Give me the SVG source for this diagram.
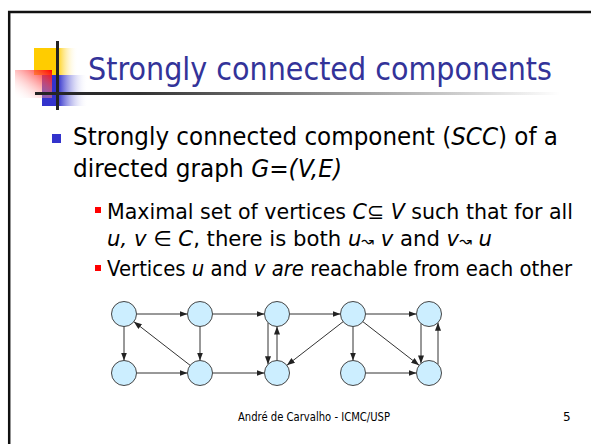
<svg xmlns="http://www.w3.org/2000/svg" width="591" height="444" viewBox="0 0 591 444">
  <style>
    .title { font-family: "DejaVu Sans", sans-serif; font-size: 32px; fill: #333399; }
    .b1 { font-family: "DejaVu Sans", sans-serif; font-size: 25px; fill: #000; }
    .b2 { font-family: "DejaVu Sans", sans-serif; font-size: 21px; fill: #000; }
    .foot { font-family: "DejaVu Sans", sans-serif; font-size: 12px; fill: #000; }
    .i { font-style: italic; }
    .node circle { fill: #cceeff; stroke: #444; stroke-width: 1; }
    #edges line { stroke: #333; stroke-width: 1; marker-end: url(#arr); }
  </style>
  <defs>
    <marker id="arr" viewBox="0 0 8 6" refX="8" refY="3" markerWidth="8" markerHeight="6" markerUnits="userSpaceOnUse" orient="auto">
      <path d="M0,0 L8,3 L0,6 z" fill="#222"/>
    </marker>
    <linearGradient id="gYellow" x1="0" y1="0" x2="1" y2="0">
      <stop offset="0" stop-color="#ffcc00"/>
      <stop offset="0.52" stop-color="#ffcc00"/>
      <stop offset="1" stop-color="#ffffff" stop-opacity="0"/>
    </linearGradient>
    <linearGradient id="gBlue" x1="0" y1="0" x2="1" y2="0">
      <stop offset="0" stop-color="#3333cc"/>
      <stop offset="0.35" stop-color="#3333cc"/>
      <stop offset="1" stop-color="#ffffff" stop-opacity="0"/>
    </linearGradient>
    <linearGradient id="gRed" x1="1" y1="0" x2="0" y2="1">
      <stop offset="0" stop-color="#ff0000"/>
      <stop offset="1" stop-color="#ffffff" stop-opacity="0"/>
    </linearGradient>
    <linearGradient id="gRule" gradientUnits="userSpaceOnUse" x1="35" y1="0" x2="560" y2="0">
      <stop offset="0" stop-color="#222"/>
      <stop offset="0.2" stop-color="#333"/>
      <stop offset="1" stop-color="#ffffff"/>
    </linearGradient>
  </defs>

  <rect width="591" height="444" fill="#fff"/>
  <!-- slide frame -->
  <rect x="9.2" y="12" width="700" height="700" fill="none" stroke="#111" stroke-width="2.5"/>

  <!-- title logo -->
  <g id="logo">
    <rect x="34" y="48" width="44" height="27" fill="url(#gYellow)"/>
    <rect x="42" y="75" width="46" height="31" fill="url(#gBlue)"/>
    <rect x="15" y="70" width="37" height="28" fill="url(#gRed)"/>
    <line x1="57.5" y1="41" x2="57.5" y2="110" stroke="#222" stroke-width="3"/>
    <line x1="35" y1="93.5" x2="560" y2="93.5" stroke="url(#gRule)" stroke-width="3"/>
  </g>

  <text class="title" x="88" y="80" textLength="464" lengthAdjust="spacingAndGlyphs">Strongly connected components</text>

  <!-- bullets -->
  <rect x="52" y="134" width="9" height="9" fill="#3333cc"/>
  <text class="b1" x="73" y="145" textLength="485" lengthAdjust="spacingAndGlyphs">Strongly connected component (<tspan class="i">SCC</tspan>) of a</text>
  <text class="b1" x="73" y="177" textLength="269" lengthAdjust="spacingAndGlyphs">directed graph <tspan class="i">G=(V,E)</tspan></text>

  <rect x="95" y="207" width="6" height="6" fill="#ff0000"/>
  <text class="b2" x="107" y="219" textLength="466" lengthAdjust="spacingAndGlyphs">Maximal set of vertices <tspan class="i">C</tspan>⊆ <tspan class="i">V</tspan> such that for all</text>
  <text class="b2" x="107" y="246" textLength="385" lengthAdjust="spacingAndGlyphs"><tspan class="i">u, v</tspan> ∈ <tspan class="i">C</tspan>, there is both <tspan class="i">u</tspan><tspan font-size="15">↝</tspan> <tspan class="i">v</tspan> and <tspan class="i">v</tspan><tspan font-size="15">↝</tspan> <tspan class="i">u</tspan></text>
  <rect x="95" y="265" width="6" height="6" fill="#ff0000"/>
  <text class="b2" x="107" y="276" textLength="465" lengthAdjust="spacingAndGlyphs">Vertices <tspan class="i">u</tspan> and <tspan class="i">v are</tspan> reachable from each other</text>

  <!-- graph connectors -->
  <g id="edges">
    <line x1="136.5" y1="314" x2="187.5" y2="314"/>
    <line x1="212.5" y1="314" x2="264.5" y2="314"/>
    <line x1="289.5" y1="314" x2="340.5" y2="314"/>
    <line x1="365.5" y1="314" x2="416.5" y2="314"/>
    <line x1="136.5" y1="373" x2="187.5" y2="373"/>
    <line x1="212.5" y1="373" x2="264.5" y2="373"/>
    <line x1="365.5" y1="373" x2="416.5" y2="373"/>
    <line x1="124" y1="326.5" x2="124" y2="360.5"/>
    <line x1="200" y1="326.5" x2="200" y2="360.5"/>
    <line x1="353" y1="326.5" x2="353" y2="360.5"/>
    <line x1="190.1" y1="365.3" x2="133.9" y2="321.7"/>
    <line x1="343.1" y1="321.7" x2="286.9" y2="365.3"/>
    <line x1="362.9" y1="321.7" x2="419.1" y2="365.3"/>
    <line x1="268" y1="322.7" x2="268" y2="364.3"/>
    <line x1="277" y1="360.5" x2="277" y2="326.5"/>
    <line x1="421" y1="323.6" x2="421" y2="363.4"/>
    <line x1="438" y1="364.3" x2="438" y2="322.7"/>
  </g>

  <!-- graph vertices -->
  <g id="nA" class="node"><circle cx="124" cy="314" r="12.5"/></g>
  <g id="nB" class="node"><circle cx="200" cy="314" r="12.5"/></g>
  <g id="nC" class="node"><circle cx="277" cy="314" r="12.5"/></g>
  <g id="nD" class="node"><circle cx="353" cy="314" r="12.5"/></g>
  <g id="nE" class="node"><circle cx="429" cy="314" r="12.5"/></g>
  <g id="nF" class="node"><circle cx="124" cy="373" r="12.5"/></g>
  <g id="nG" class="node"><circle cx="200" cy="373" r="12.5"/></g>
  <g id="nH" class="node"><circle cx="277" cy="373" r="12.5"/></g>
  <g id="nI" class="node"><circle cx="353" cy="373" r="12.5"/></g>
  <g id="nJ" class="node"><circle cx="429" cy="373" r="12.5"/></g>

  <!-- footer -->
  <text class="foot" x="238" y="421" textLength="152" lengthAdjust="spacingAndGlyphs">André de Carvalho - ICMC/USP</text>
  <text class="foot" x="563" y="421">5</text>
</svg>
